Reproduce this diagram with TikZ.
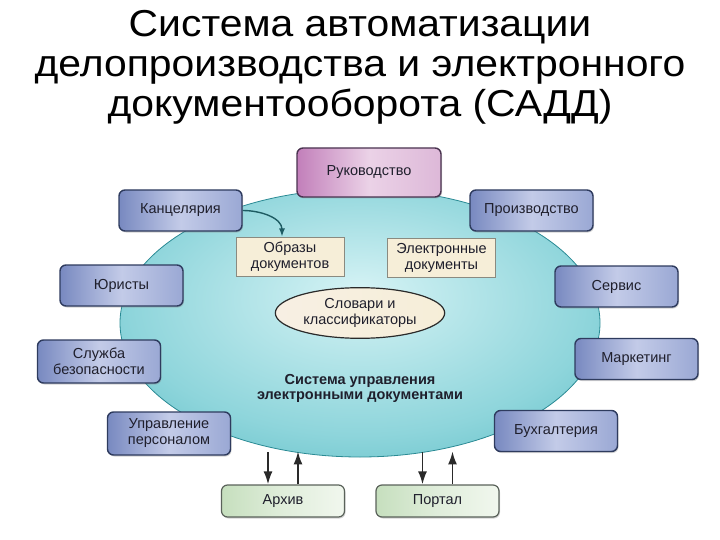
\documentclass[tikz,border=0pt]{standalone}
\usepackage{fontspec}
\setmainfont{Liberation Sans}
\newfontfamily\titlefont{Liberation Sans}[FakeStretch=1.09]
\usetikzlibrary{shapes.geometric,arrows.meta,shadows}

\definecolor{unitline}{HTML}{2E3B5E}
\definecolor{unitleft}{HTML}{7889C0}
\definecolor{unitmid}{HTML}{C3CBE8}
\definecolor{unitright}{HTML}{9AA8D4}
\definecolor{bossleft}{HTML}{C27FBA}
\definecolor{bossmid}{HTML}{EBD2E7}
\definecolor{bossright}{HTML}{DDB8D8}
\definecolor{bossline}{HTML}{4A3350}
\definecolor{extleft}{HTML}{C6DFBE}
\definecolor{extright}{HTML}{F1F7EE}
\definecolor{extline}{HTML}{5A625A}
\definecolor{docfill}{HTML}{F6EED8}
\definecolor{docline}{HTML}{8A8A80}
\definecolor{saddin}{HTML}{D6F3F5}
\definecolor{saddmid}{HTML}{8ED5DB}
\definecolor{saddout}{HTML}{2BA5B0}
\definecolor{saddline}{HTML}{2A8A94}
\definecolor{labelgray}{HTML}{1F1F2C}
\definecolor{arrowgray}{HTML}{2A2A2A}
\definecolor{arrowteal}{HTML}{1E5C63}

\pgfdeclareradialshading{saddshade}{\pgfpoint{0bp}{6bp}}{color(0bp)=(saddin); color(24bp)=(saddmid); color(50bp)=(saddout)}

\begin{document}
\begin{tikzpicture}[x=1pt,y=-1pt,
	unit/.style={rounded corners=6pt, draw=unitline, line width=1.4pt,
		left color=unitleft, right color=unitright, middle color=unitmid,
		drop shadow={shadow xshift=1pt, shadow yshift=-1.5pt, opacity=0.35},
		minimum width=123pt, minimum height=41pt, align=center, text=labelgray,
		font=\fontsize{14.5}{16}\selectfont},
	boss/.style={unit, draw=bossline, left color=bossleft, right color=bossright, middle color=bossmid},
	ext/.style={unit, draw=extline, line width=1.2pt, left color=extleft, right color=extright, middle color=extright!60!extleft},
	doc/.style={draw=docline, line width=1pt, fill=docfill, minimum width=108pt, minimum height=39pt,
		align=center, text=labelgray, font=\fontsize{14.5}{16}\selectfont},
	flow/.style={-{Latex[length=13pt,width=9pt]}, line width=1.8pt, draw=arrowgray}]
	\useasboundingbox (0,0) rectangle (720,540);

	\node[font=\titlefont\fontsize{37.5}{40}\selectfont, align=center, anchor=base] (title) at (360,117)
		{Система автоматизации\\делопроизводства и электронного\\документооборота (САДД)};

	%CORE
	\node[ellipse, minimum width=480pt, minimum height=268pt, draw=saddline, line width=0.8pt,
		shade, shading=saddshade] (sadd) at (360,323) {};
	\node[doc] (images) at (290,256.5) {Образы\\документов};
	\node[doc] (edocs) at (441.5,257.5) {Электронные\\документы};
	\node[ellipse, draw=arrowgray, line width=1.2pt, left color=docfill!80!brown!40, right color=docfill,
		minimum width=150pt, minimum height=40pt, align=center, text=labelgray,
		font=\fontsize{14.5}{16}\selectfont] (dict) at (360,313) {Словари и\\классификаторы};
	\node[align=center, text=labelgray, font=\bfseries\fontsize{14.5}{15}\selectfont] (core) at (360,388)
		{Система управления\\электронными документами};

	%UNITS
	\node[boss, minimum width=144pt, minimum height=49pt] (boss) at (369,172.5) {Руководство};
	\node[unit] (office) at (180.5,210.5) {Канцелярия};
	\node[unit] (prod) at (531.5,210.5) {Производство};
	\node[unit] (law) at (121.5,285.5) {Юристы};
	\node[unit] (service) at (616.5,286.5) {Сервис};
	\node[unit, minimum height=43pt] (security) at (99,361.5) {Служба\\безопасности};
	\node[unit] (market) at (636.5,359) {Маркетинг};
	\node[unit, minimum height=43pt] (staff) at (169,433.5) {Управление\\персоналом};
	\node[unit] (account) at (556,431) {Бухгалтерия};
	\node[ext, minimum height=32pt] (archive) at (283,501) {Архив};
	\node[ext, minimum height=32pt] (portal) at (437.5,501) {Портал};

	%ARROWS
	\draw[-{Latex[length=8pt,width=6pt]}, line width=1.4pt, draw=arrowteal]
		(office.east) to[out=0, in=90] ([xshift=-8pt]images.north);
	\draw[flow] ([xshift=-15pt]archive.north) ++(0,-32) -- ([xshift=-15pt]archive.north);
	\draw[flow] ([xshift=15pt]archive.north) -- ++(0,-33);
	\draw[flow] ([xshift=-15pt]portal.north) ++(0,-32) -- ([xshift=-15pt]portal.north);
	\draw[flow] ([xshift=15pt]portal.north) -- ++(0,-33);
\end{tikzpicture}
\end{document}
